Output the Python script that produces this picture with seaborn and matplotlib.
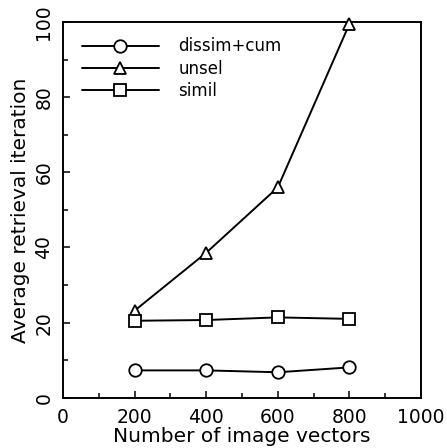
import seaborn as sns
import matplotlib.pyplot as plt
from matplotlib.ticker import MultipleLocator

# data
n_vectors = [200, 400, 600, 800]
dissim_cum = [7.3, 7.3, 6.8, 8.1]
unsel = [23.2, 38.6, 56.0, 99.5]
simil = [20.5, 20.7, 21.4, 21.0]

series = [
    ("dissim+cum", dissim_cum, "o"),
    ("unsel", unsel, "^"),
    ("simil", simil, "s"),
]

sns.set_style("ticks")
plt.rcParams["font.family"] = ["DejaVu Sans"]
plt.rcParams.update({"text.color": "black", "axes.labelcolor": "black",
                     "xtick.color": "black", "ytick.color": "black"})

fig = plt.figure(figsize=(4.47, 4.48), dpi=100)
ax = fig.add_axes([0.141, 0.112, 0.801, 0.839])

for name, vals, mk in series:
    sns.lineplot(x=n_vectors, y=vals, ax=ax, color="black", linewidth=1.4,
                 marker=mk, markersize=9, markerfacecolor="white",
                 markeredgecolor="black", markeredgewidth=1.3,
                 label=name, clip_on=False, zorder=3)

ax.set_xlim(0, 1000)
ax.set_ylim(0, 100)
ax.xaxis.set_major_locator(MultipleLocator(200))
ax.xaxis.set_minor_locator(MultipleLocator(100))
ax.yaxis.set_major_locator(MultipleLocator(20))
ax.yaxis.set_minor_locator(MultipleLocator(10))
ax.tick_params(which="both", direction="in", top=False, right=False,
               width=1.1, color="black")
ax.tick_params(which="major", length=5, pad=7, labelsize=13.5)
ax.tick_params(which="minor", length=3.5)
for lbl in ax.get_yticklabels():
    lbl.set_rotation(90)
    lbl.set_va("center")

for sp in ax.spines.values():
    sp.set_linewidth(1.4)
    sp.set_color("black")

ax.set_xlabel("Number of image vectors", fontsize=14.5, labelpad=0)
ax.set_ylabel("Average retrieval iteration", fontsize=14.5, labelpad=3)

ax.legend(loc="upper left", frameon=False, fontsize=12, handlelength=4.6,
          handletextpad=1.2, labelspacing=0.25, borderaxespad=0.3,
          bbox_to_anchor=(0.02, 0.99))

fig.savefig("out.png", dpi=100)
